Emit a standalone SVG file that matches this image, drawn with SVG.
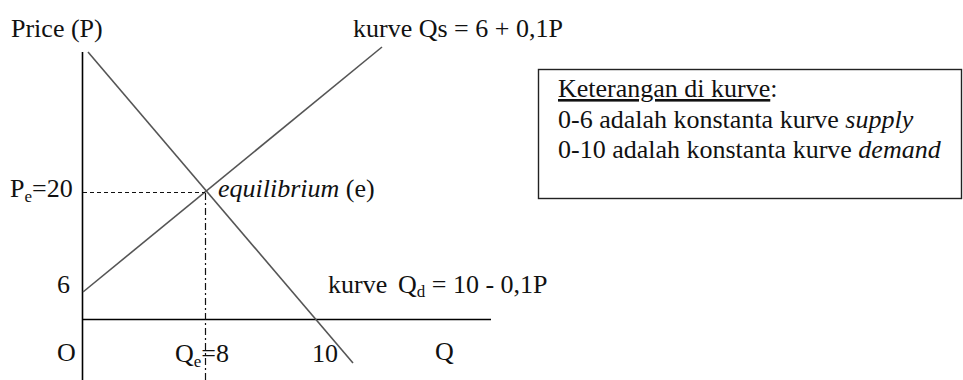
<svg xmlns="http://www.w3.org/2000/svg" width="963" height="380" viewBox="0 0 963 380">
<style>
text{font-family:"Liberation Serif","Times New Roman",serif;font-size:26px;fill:#111}
.it{font-style:italic}
.sub{font-size:17px}
.axis{stroke:#000;stroke-width:1.6;fill:none}
.curve{stroke:#555;stroke-width:1.6;fill:none}
.dash{stroke:#111;stroke-width:1.2;fill:none;stroke-dasharray:4,3}
.dashdot{stroke:#111;stroke-width:1.2;fill:none;stroke-dasharray:7,3,2,3}
</style>
<rect width="963" height="380" fill="#fff"/>
<g id="connectors">
<line class="axis" x1="82.5" y1="52" x2="82.5" y2="380"/>
<line class="axis" x1="82.5" y1="319.5" x2="491" y2="319.5"/>
<line class="curve" x1="83" y1="292" x2="382" y2="47"/>
<line class="curve" x1="88" y1="52" x2="353" y2="363"/>
<line class="dash" x1="83" y1="192.5" x2="205" y2="192.5"/>
<line class="dashdot" x1="205.5" y1="193" x2="205.5" y2="380"/>
</g>
<g id="axis-labels">
<text x="11" y="37">Price (P)</text>
<text x="57" y="293">6</text>
<text x="57" y="361">O</text>
<text x="435" y="360">Q</text>
<text x="312" y="362">10</text>
</g>
<g id="pe-label">
<text x="10" y="197">P<tspan class="sub" dy="5">e</tspan><tspan dy="-5">=20</tspan></text>
</g>
<g id="qe-label">
<text x="175" y="362">Q<tspan class="sub" dy="5">e</tspan><tspan dy="-5">=8</tspan></text>
</g>
<g id="equilibrium">
<text x="218" y="197"><tspan class="it">equilibrium</tspan> (e)</text>
</g>
<g id="supply-label">
<text x="353" y="37">kurve Qs = 6 + 0,1P</text>
</g>
<g id="demand-label">
<text x="328" y="293">kurve<tspan x="398">Q</tspan><tspan class="sub" dy="4">d</tspan><tspan dy="-4"> = 10 - 0,1P</tspan></text>
</g>
<g id="legend">
<rect x="538.5" y="69.5" width="423" height="129" fill="none" stroke="#222" stroke-width="1.4"/>
<text x="558" y="97"><tspan text-decoration="underline">Keterangan di kurve</tspan>:</text>
<text x="558" y="128">0-6 adalah konstanta kurve <tspan class="it">supply</tspan></text>
<text x="558" y="158">0-10 adalah konstanta kurve <tspan class="it">demand</tspan></text>
</g>
</svg>
